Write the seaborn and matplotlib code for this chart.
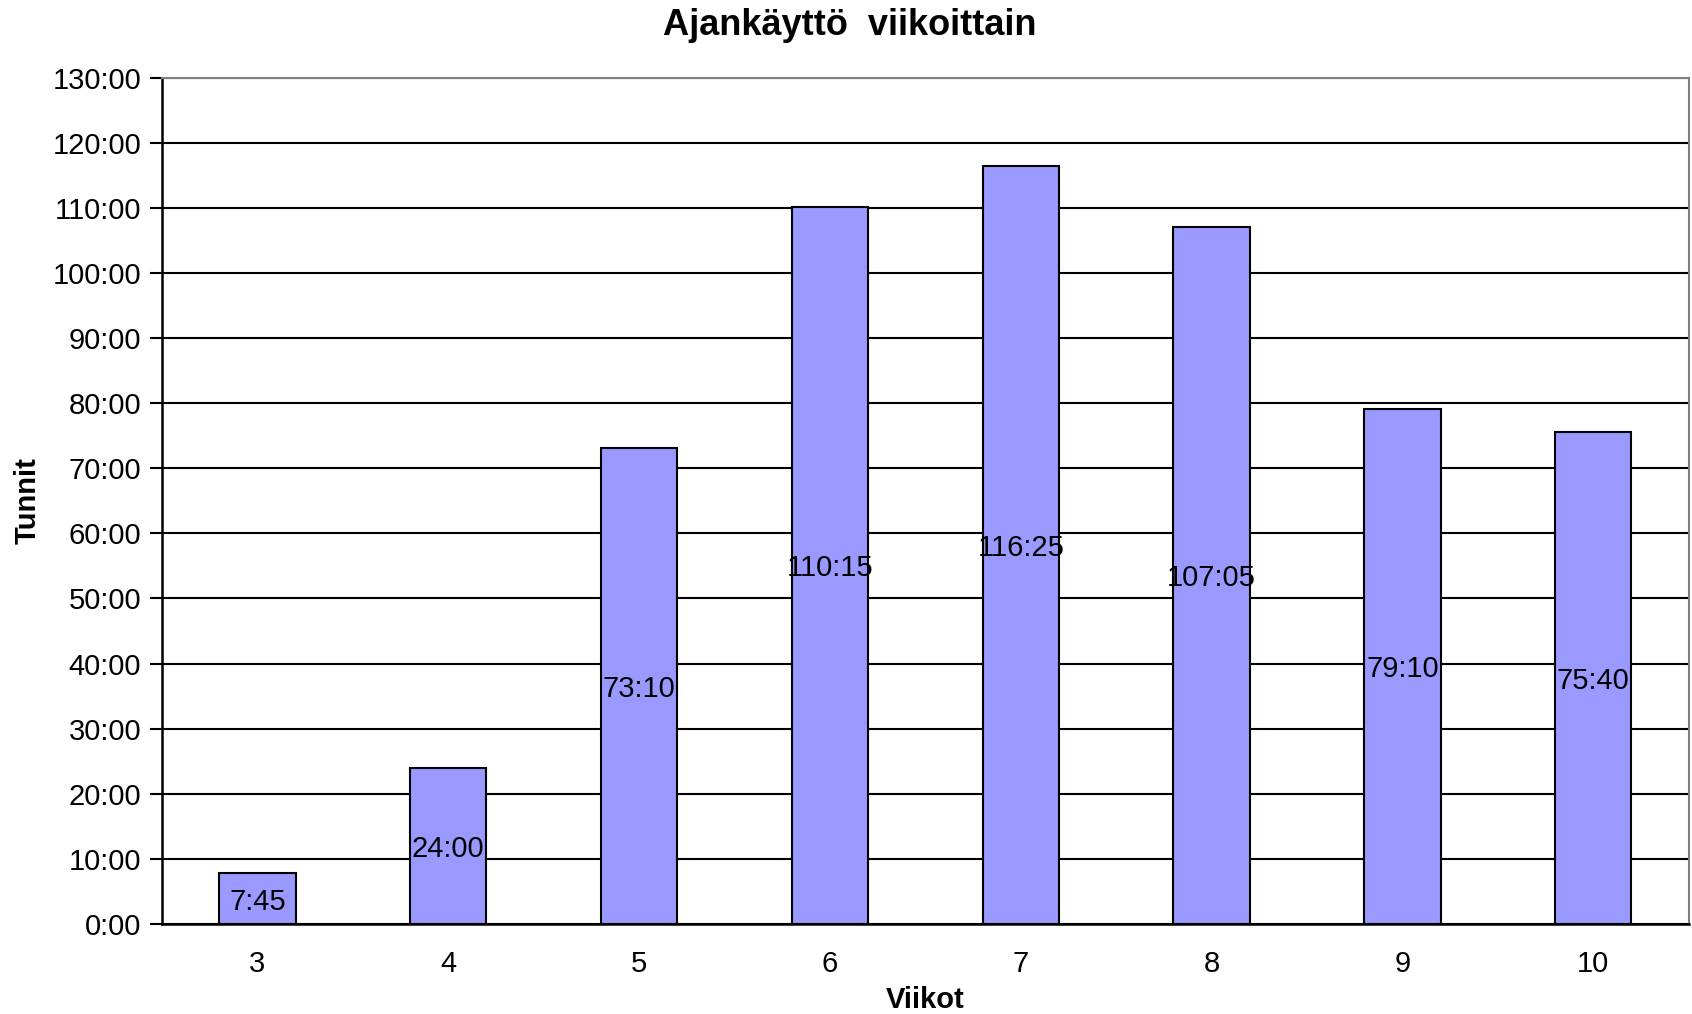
import matplotlib
matplotlib.use("Agg")
import matplotlib.pyplot as plt
import seaborn as sns
import pandas as pd

# ==========================================
# DATA
# ==========================================
weeks = ["3", "4", "5", "6", "7", "8", "9", "10"]
hours = [7, 24, 73, 110, 116, 107, 79, 75]
minutes = [45, 0, 10, 15, 25, 5, 10, 40]
y_ticks = list(range(0, 131, 10))

df = pd.DataFrame({"Viikot": weeks, "h": hours, "m": minutes})
df["Tunnit"] = df["h"] + df["m"] / 60.0
df["label"] = [f"{h}:{m:02d}" for h, m in zip(hours, minutes)]

# ==========================================
# PLOT
# ==========================================
sns.set_style("white")
plt.rcParams["font.family"] = ["Liberation Sans", "DejaVu Sans"]
plt.rcParams["text.color"] = "black"
plt.rcParams["axes.labelcolor"] = "black"
plt.rcParams["xtick.color"] = "black"
plt.rcParams["ytick.color"] = "black"

fig = plt.figure(figsize=(16.92, 10.14), dpi=100)
ax = fig.add_axes([0.0957, 0.089, 0.9023, 0.834])

sns.barplot(data=df, x="Viikot", y="Tunnit", order=weeks, color="#9999FF",
            saturation=1, width=0.4, edgecolor="black", linewidth=1.5,
            errorbar=None, ax=ax, zorder=3)

# data labels centered in bars
for p, lab in zip(ax.patches, df["label"]):
    ax.text(p.get_x() + p.get_width() / 2, p.get_height() / 2, lab,
            ha="center", va="center_baseline", fontsize=21, color="black", zorder=4)

ax.set_ylim(0, 130)
ax.set_xlim(-0.5, len(weeks) - 0.5)
ax.set_yticks(y_ticks)
ax.set_yticklabels([f"{v}:00" for v in y_ticks], fontsize=21)

# category ticks between bars, labels at centers
ax.set_xticks([i - 0.5 for i in range(len(weeks) + 1)])
ax.set_xticklabels([])
ax.set_xticks(range(len(weeks)), minor=True)
ax.set_xticklabels(weeks, minor=True, fontsize=21)
ax.tick_params(axis="x", which="major", length=9, width=1.5, color="black", direction="out")
ax.tick_params(axis="x", which="minor", length=0, pad=19)
ax.tick_params(axis="y", length=9, width=1.5, color="black", direction="out", left=True, pad=6)

ax.set_axisbelow(True)
ax.yaxis.grid(True, color="black", linewidth=1.5)
ax.xaxis.grid(False)

for s in ["left", "bottom"]:
    ax.spines[s].set_color("black")
    ax.spines[s].set_linewidth(1.8)
for s in ["top", "right"]:
    ax.spines[s].set_visible(True)
    ax.spines[s].set_color("#808080")
    ax.spines[s].set_linewidth(1.5)

ax.set_xlabel("Viikot", fontsize=21, fontweight="bold", labelpad=6)
ax.set_ylabel("Tunnit", fontsize=21, fontweight="bold", labelpad=8)
fig.text(0.502, 0.975, "Ajankäyttö  viikoittain", fontsize=26, fontweight="bold",
         ha="center", va="center")

fig.savefig("out.png", dpi=100)
